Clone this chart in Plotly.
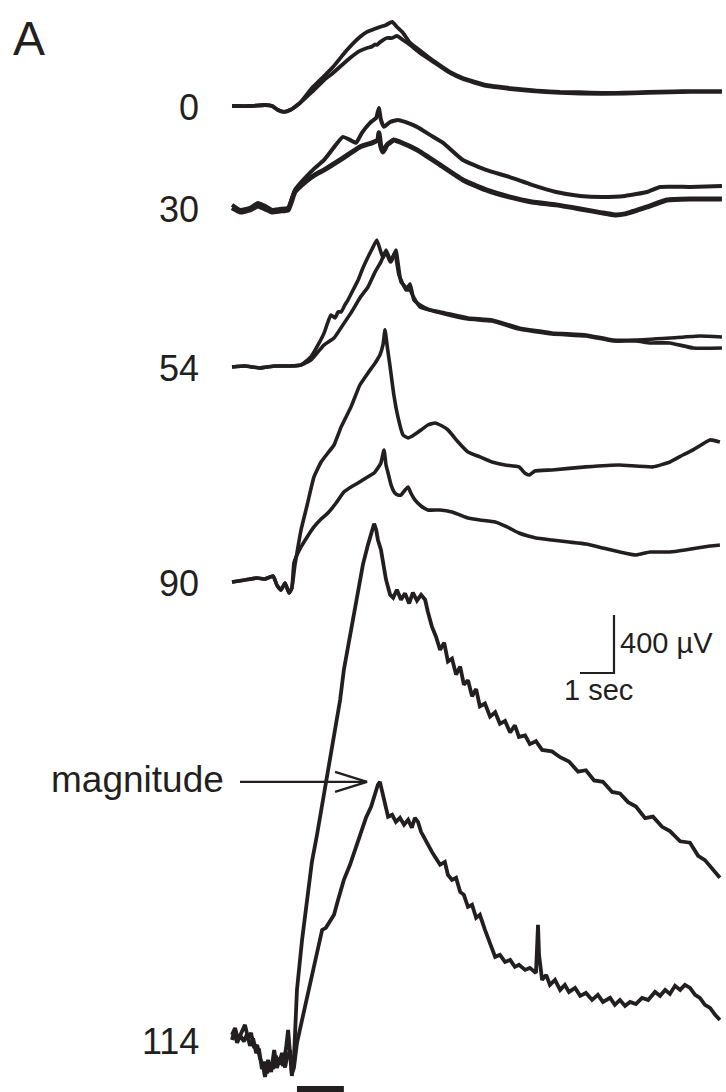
import plotly.graph_objects as go

# Field potential traces recorded at several depths (µm); time in s, voltage in µV
# relative to each depth's pre-stimulus baseline.
depth_labels = ["0", "30", "54", "90", "114"]
depth_offsets_uv = [-731, -1434, -2531, -4014, -7172]  # vertical stacking of each depth

trace_0a = [(0, 0), (0.53, 0), (0.97, 7), (1.18, 0), (1.35, -28), (1.53, -41), (1.71, -28), (2.0, 21),
            (2.35, 124), (2.71, 207), (2.97, 269), (3.38, 386), (3.76, 476), (3.97, 511), (4.35, 545),
            (4.53, 559), (4.71, 580), (4.85, 545), (5.03, 504), (5.24, 435), (5.62, 366), (5.97, 304),
            (6.41, 235), (6.79, 193), (7.47, 145), (8.18, 124), (8.82, 110), (9.0, 105), (9.65, 97),
            (10.2, 95), (10.88, 90), (11.5, 92), (12.24, 97), (13.0, 100), (13.47, 103), (14.41, 103)]
trace_0b = [(0, 0), (0.53, 0), (0.97, 7), (1.18, 0), (1.35, -28), (1.53, -41), (1.71, -28), (2.0, 21),
            (2.35, 97), (2.71, 179), (2.97, 228), (3.47, 331), (3.76, 380), (3.97, 400), (4.12, 410),
            (4.21, 425), (4.26, 421), (4.35, 440), (4.44, 455), (4.56, 469), (4.71, 469), (4.85, 483),
            (5.03, 455), (5.24, 421), (5.53, 366), (5.97, 297), (6.41, 228), (6.79, 186), (7.47, 138),
            (8.18, 117), (8.82, 103), (9.65, 90), (10.88, 83), (12.24, 90), (13.47, 97), (14.41, 97)]

trace_30a = [(0, 21), (0.24, -14), (0.53, 0), (0.76, 34), (0.97, 14), (1.18, -14), (1.41, -7), (1.65, 0),
             (1.85, 124), (2.15, 207), (2.44, 276), (2.71, 331), (3.03, 428), (3.26, 490), (3.47, 469),
             (3.65, 449), (3.82, 518), (4.06, 587), (4.24, 621), (4.32, 690), (4.38, 607), (4.47, 559),
             (4.65, 593), (4.88, 607), (5.09, 593), (5.44, 559), (5.82, 504), (6.21, 449), (6.79, 331),
             (7.47, 262), (8.15, 214), (8.82, 159), (9.53, 110), (10.24, 83), (10.88, 76), (11.56, 83),
             (12.21, 110), (12.59, 145), (13.47, 145), (14.41, 152)]
trace_30b = [(0, 0), (0.24, -28), (0.53, -14), (0.76, 14), (0.97, -7), (1.18, -28), (1.41, -21), (1.65, -14),
             (1.85, 110), (2.15, 179), (2.44, 228), (2.71, 262), (3.18, 331), (3.76, 421), (4.12, 449),
             (4.29, 469), (4.32, 518), (4.38, 421), (4.44, 386), (4.56, 435), (4.76, 469), (4.94, 455),
             (5.44, 400), (6.12, 297), (6.79, 193), (7.47, 124), (8.15, 76), (8.82, 41), (9.53, 21),
             (10.24, -7), (10.88, -34), (11.26, -48), (11.56, -41), (12.21, 7), (12.79, 55), (13.47, 62),
             (14.41, 62)]

trace_54a = [(0, 0), (0.38, 7), (0.82, -7), (1.26, 7), (1.71, 7), (2.03, 14),
             (2.32, 69), (2.53, 152), (2.71, 235), (2.82, 310), (2.91, 359), (3.03, 338), (3.12, 380),
             (3.21, 380), (3.32, 428), (3.41, 462), (3.56, 531), (3.71, 600), (3.85, 683), (4.0, 759),
             (4.15, 828), (4.26, 876), (4.44, 752), (4.53, 794), (4.65, 725), (4.79, 787), (4.91, 635),
             (5.12, 531), (5.24, 531), (5.32, 490), (5.53, 414), (5.82, 393), (6.26, 373), (6.94, 338),
             (7.65, 324), (8.44, 269), (9.41, 235), (10.41, 221), (11.21, 186), (11.88, 186), (12.88, 200),
             (13.76, 214), (14.41, 207)]
trace_54b = [(0, 0), (0.38, 7), (0.82, -7), (1.26, 7), (1.71, 7), (2.03, 14),
             (2.32, 48), (2.53, 104), (2.71, 152), (3.0, 200), (3.26, 290), (3.5, 373), (3.76, 476),
             (4.0, 552), (4.21, 656), (4.38, 725), (4.53, 807), (4.68, 725), (4.82, 807), (4.97, 587),
             (5.15, 545), (5.24, 573), (5.35, 462), (5.53, 428), (5.82, 393), (6.26, 366), (6.94, 331),
             (7.65, 317), (8.44, 262), (9.41, 228), (10.41, 214), (11.21, 179), (11.88, 179), (12.29, 166),
             (12.88, 166), (13.56, 131), (14.41, 131)]

trace_90a = [(0, 0), (0.38, 14), (0.74, 28), (0.97, 21), (1.21, 41), (1.32, -21), (1.44, -55), (1.56, -7),
             (1.68, -76), (1.76, -41),
             (1.85, 117), (1.91, 200), (2.03, 359), (2.21, 531), (2.41, 725), (2.62, 828), (2.82, 890),
             (3.0, 945), (3.21, 1070), (3.5, 1208), (3.76, 1359), (4.0, 1442), (4.21, 1511), (4.35, 1566),
             (4.44, 1635), (4.5, 1739), (4.56, 1635), (4.65, 1484), (4.76, 1290), (4.88, 1139), (5.03, 1014),
             (5.18, 994), (5.35, 1014), (5.56, 1049), (5.76, 1083), (5.97, 1097), (6.18, 1076), (6.35, 1049),
             (6.65, 966), (6.94, 897), (7.29, 863), (7.65, 828), (8.03, 807), (8.44, 794), (8.62, 750),
             (8.74, 738), (8.91, 766), (9.41, 773), (10.41, 794), (11.38, 807), (12.38, 794), (12.88, 828),
             (13.26, 876), (13.56, 911), (14.06, 980), (14.35, 966)]
trace_90b = [(0, 0), (0.38, 14), (0.74, 28), (0.97, 21), (1.21, 41), (1.32, -21), (1.44, -55), (1.56, -7),
             (1.68, -76), (1.76, -41),
             (1.82, 131), (1.91, 186), (2.03, 242), (2.21, 311), (2.41, 380), (2.62, 435), (2.82, 476),
             (3.06, 545), (3.29, 621), (3.5, 656), (3.71, 683), (3.94, 718), (4.18, 752), (4.29, 787),
             (4.38, 821), (4.47, 911), (4.53, 807), (4.59, 752), (4.68, 669), (4.79, 614), (4.88, 600),
             (4.97, 600), (5.09, 635), (5.18, 656), (5.26, 614), (5.38, 566), (5.56, 524), (5.76, 497),
             (6.12, 497), (6.47, 483), (6.71, 462), (6.94, 442), (7.29, 428), (7.74, 414), (8.09, 380),
             (8.44, 338), (8.71, 317), (8.94, 304), (9.41, 290), (9.91, 276), (10.41, 262), (10.91, 235),
             (11.41, 207), (11.88, 186), (12.29, 207), (12.88, 207), (13.32, 221), (13.68, 235), (14.06, 248),
             (14.35, 255)]

trace_114a = [(0, 35), (0.09, 83), (0.18, 0), (0.29, 55), (0.38, 104), (0.47, 14), (0.56, 48), (0.65, -55),
              (0.74, -35), (0.82, -124), (0.91, -179), (0.97, -255), (1.06, -138), (1.15, -221), (1.24, -69),
              (1.32, -193), (1.41, -124), (1.5, -179), (1.59, -55), (1.65, 69), (1.71, -138), (1.76, -248),
              (1.82, -138), (1.91, 345), (2.06, 690), (2.21, 966), (2.35, 1228), (2.5, 1415), (2.65, 1622),
              (2.76, 1780), (2.97, 2070), (3.18, 2346), (3.29, 2553), (3.47, 2795), (3.71, 3105), (3.85, 3278),
              (4.0, 3416), (4.12, 3519), (4.18, 3560), (4.24, 3519), (4.29, 3450), (4.38, 3381), (4.47, 3243),
              (4.53, 3174), (4.65, 3071), (4.74, 3050), (4.85, 3105), (4.97, 3036), (5.09, 3080), (5.21, 3010),
              (5.32, 3085), (5.44, 3030), (5.56, 3070), (5.68, 3036), (5.76, 2953), (5.88, 2850), (6.0, 2781),
              (6.12, 2690), (6.24, 2740), (6.35, 2610), (6.47, 2630), (6.59, 2520), (6.71, 2575), (6.82, 2450),
              (6.94, 2480), (7.06, 2370), (7.18, 2420), (7.29, 2300), (7.44, 2320), (7.59, 2230), (7.74, 2260),
              (7.88, 2180), (8.03, 2200), (8.18, 2120), (8.32, 2170), (8.44, 2090), (8.62, 2100), (8.76, 2040),
              (8.94, 2060), (9.12, 2000), (9.41, 1990), (9.65, 1950), (9.91, 1920), (10.18, 1850), (10.41, 1860),
              (10.65, 1790), (10.91, 1780), (11.18, 1710), (11.41, 1700), (11.65, 1640), (11.88, 1610),
              (12.15, 1530), (12.38, 1540), (12.65, 1470), (12.88, 1440), (13.18, 1370), (13.47, 1360),
              (13.71, 1270), (13.91, 1240), (14.12, 1180), (14.35, 1118)]
trace_114b = [(0, 0), (0.06, 55), (0.15, -20), (0.24, 30), (0.35, -10), (0.44, 40), (0.53, -40), (0.62, 10),
              (0.71, -90), (0.79, -60), (0.88, -200), (0.94, -150), (1.03, -230), (1.12, -160), (1.21, -200),
              (1.29, -110), (1.38, -170), (1.47, -90), (1.56, -190), (1.62, -120), (1.71, -70), (1.76, -230),
              (1.82, -193), (1.91, -21), (2.06, 138), (2.21, 297), (2.35, 462), (2.5, 621), (2.59, 704),
              (2.65, 759), (2.76, 773), (2.88, 814), (3.0, 863), (3.12, 966), (3.29, 1104), (3.47, 1208),
              (3.65, 1325), (3.79, 1435), (3.94, 1532), (4.09, 1608), (4.21, 1691), (4.29, 1760), (4.35, 1780),
              (4.41, 1725), (4.5, 1622), (4.59, 1539), (4.71, 1553), (4.82, 1504), (4.94, 1532), (5.06, 1484),
              (5.18, 1518), (5.29, 1463), (5.38, 1532), (5.47, 1504), (5.56, 1435), (5.68, 1380), (5.76, 1346),
              (5.88, 1297), (5.97, 1263), (6.12, 1208), (6.26, 1228), (6.35, 1139), (6.47, 1104), (6.59, 1118),
              (6.71, 1021), (6.82, 1001), (6.94, 918), (7.06, 932), (7.18, 842), (7.29, 863), (7.44, 759),
              (7.59, 656), (7.74, 573), (7.88, 587), (8.03, 538), (8.18, 552), (8.32, 504), (8.44, 518),
              (8.62, 483), (8.76, 497), (8.94, 462), (8.97, 621), (9.0, 794), (9.03, 587), (9.12, 414),
              (9.24, 449), (9.35, 380), (9.5, 414), (9.65, 345), (9.79, 380), (9.91, 331), (10.09, 359),
              (10.24, 304), (10.41, 324), (10.59, 276), (10.76, 311), (10.91, 262), (11.12, 290), (11.26, 242),
              (11.41, 276), (11.56, 235), (11.71, 262), (11.88, 248), (12.06, 290), (12.24, 276), (12.44, 331),
              (12.59, 304), (12.74, 345), (12.88, 317), (13.03, 373), (13.18, 345), (13.32, 380), (13.47, 359),
              (13.62, 311), (13.76, 290), (13.91, 242), (14.06, 221), (14.21, 173), (14.35, 138)]

traces_by_depth = [
    [trace_0a, trace_0b],
    [trace_30a, trace_30b],
    [trace_54a, trace_54b],
    [trace_90a, trace_90b],
    [trace_114a, trace_114b],
]
line_widths = [[3.8, 3.8], [4.0, 5.0], [3.6, 3.6], [3.6, 3.6], [3.8, 3.8]]
line_shapes = ["spline", "spline", "spline", "spline", "linear"]

stimulus_s = (1.91, 3.29)        # stimulus bar
scale_uv, scale_s = 400, 1       # scale bar sizes

INK = "#231f20"
FONT = "Arial, 'Liberation Sans', Helvetica, sans-serif"
UV_PER_PX = scale_uv / 58.0
X_RANGE = [-6.824, 14.529]
Y_RANGE = [-1092 * UV_PER_PX, 0]

fig = go.Figure()

for offset, group, widths, shape in zip(depth_offsets_uv, traces_by_depth, line_widths, line_shapes):
    for trace, w in zip(group, widths):
        t = [p[0] for p in trace]
        v = [offset + p[1] for p in trace]
        line = dict(color=INK, width=w, shape=shape)
        if shape == "spline":
            line["smoothing"] = 0.4
        fig.add_trace(go.Scatter(x=t, y=v, mode="lines", line=line,
                                 hoverinfo="skip", showlegend=False))

# depth labels beside each baseline
for label, offset in zip(depth_labels, depth_offsets_uv):
    fig.add_annotation(x=-0.92, y=offset - 10, text=label, showarrow=False,
                       xanchor="right", yanchor="middle",
                       font=dict(family=FONT, size=36, color=INK))

# panel letter
fig.add_annotation(x=-6.5, y=-10 * UV_PER_PX, text="A", showarrow=False,
                   xanchor="left", yanchor="top",
                   font=dict(family=FONT, size=48, color=INK))

# "magnitude" arrow pointing at the peak of the deepest response
peak_v = max(p[1] for p in trace_114b)
peak_t = [p[0] for p in trace_114b if p[1] == peak_v][0]
arrow_y = depth_offsets_uv[4] + peak_v
tip_t = peak_t - 0.38
fig.add_trace(go.Scatter(x=[0.235, tip_t], y=[arrow_y, arrow_y], mode="lines",
                         line=dict(color=INK, width=2.4), hoverinfo="skip", showlegend=False))
fig.add_trace(go.Scatter(x=[tip_t - 0.94, tip_t, tip_t - 0.94],
                         y=[arrow_y + 10 * UV_PER_PX, arrow_y, arrow_y - 10 * UV_PER_PX],
                         mode="lines", line=dict(color=INK, width=2.4),
                         hoverinfo="skip", showlegend=False))
fig.add_annotation(x=-0.17, y=arrow_y + 2 * UV_PER_PX, text="magnitude", showarrow=False,
                   xanchor="right", yanchor="middle",
                   font=dict(family=FONT, size=37, color=INK))

# scale bar
sb_t = 11.235
sb_y = -673 * UV_PER_PX
fig.add_trace(go.Scatter(x=[sb_t - scale_s, sb_t, sb_t], y=[sb_y, sb_y, sb_y + scale_uv],
                         mode="lines", line=dict(color=INK, width=2.2),
                         hoverinfo="skip", showlegend=False))
fig.add_annotation(x=sb_t + 0.12, y=sb_y + 0.52 * scale_uv, text=f"{scale_uv} µV", showarrow=False,
                   xanchor="left", yanchor="middle",
                   font=dict(family=FONT, size=29, color=INK))
fig.add_annotation(x=sb_t - 0.47, y=sb_y - 17 * UV_PER_PX, text=f"{scale_s} sec", showarrow=False,
                   xanchor="center", yanchor="middle",
                   font=dict(family=FONT, size=29, color=INK))

# stimulus bar
fig.add_shape(type="rect", x0=stimulus_s[0], x1=stimulus_s[1],
              y0=Y_RANGE[0] - 50, y1=-1086 * UV_PER_PX,
              fillcolor=INK, line=dict(width=0), layer="above")

fig.update_layout(
    width=726, height=1092,
    margin=dict(l=0, r=0, t=0, b=0),
    paper_bgcolor="white", plot_bgcolor="white",
    xaxis=dict(range=X_RANGE, visible=False, fixedrange=True),
    yaxis=dict(range=Y_RANGE, visible=False, fixedrange=True),
    showlegend=False,
)

fig.write_html("out.html")
